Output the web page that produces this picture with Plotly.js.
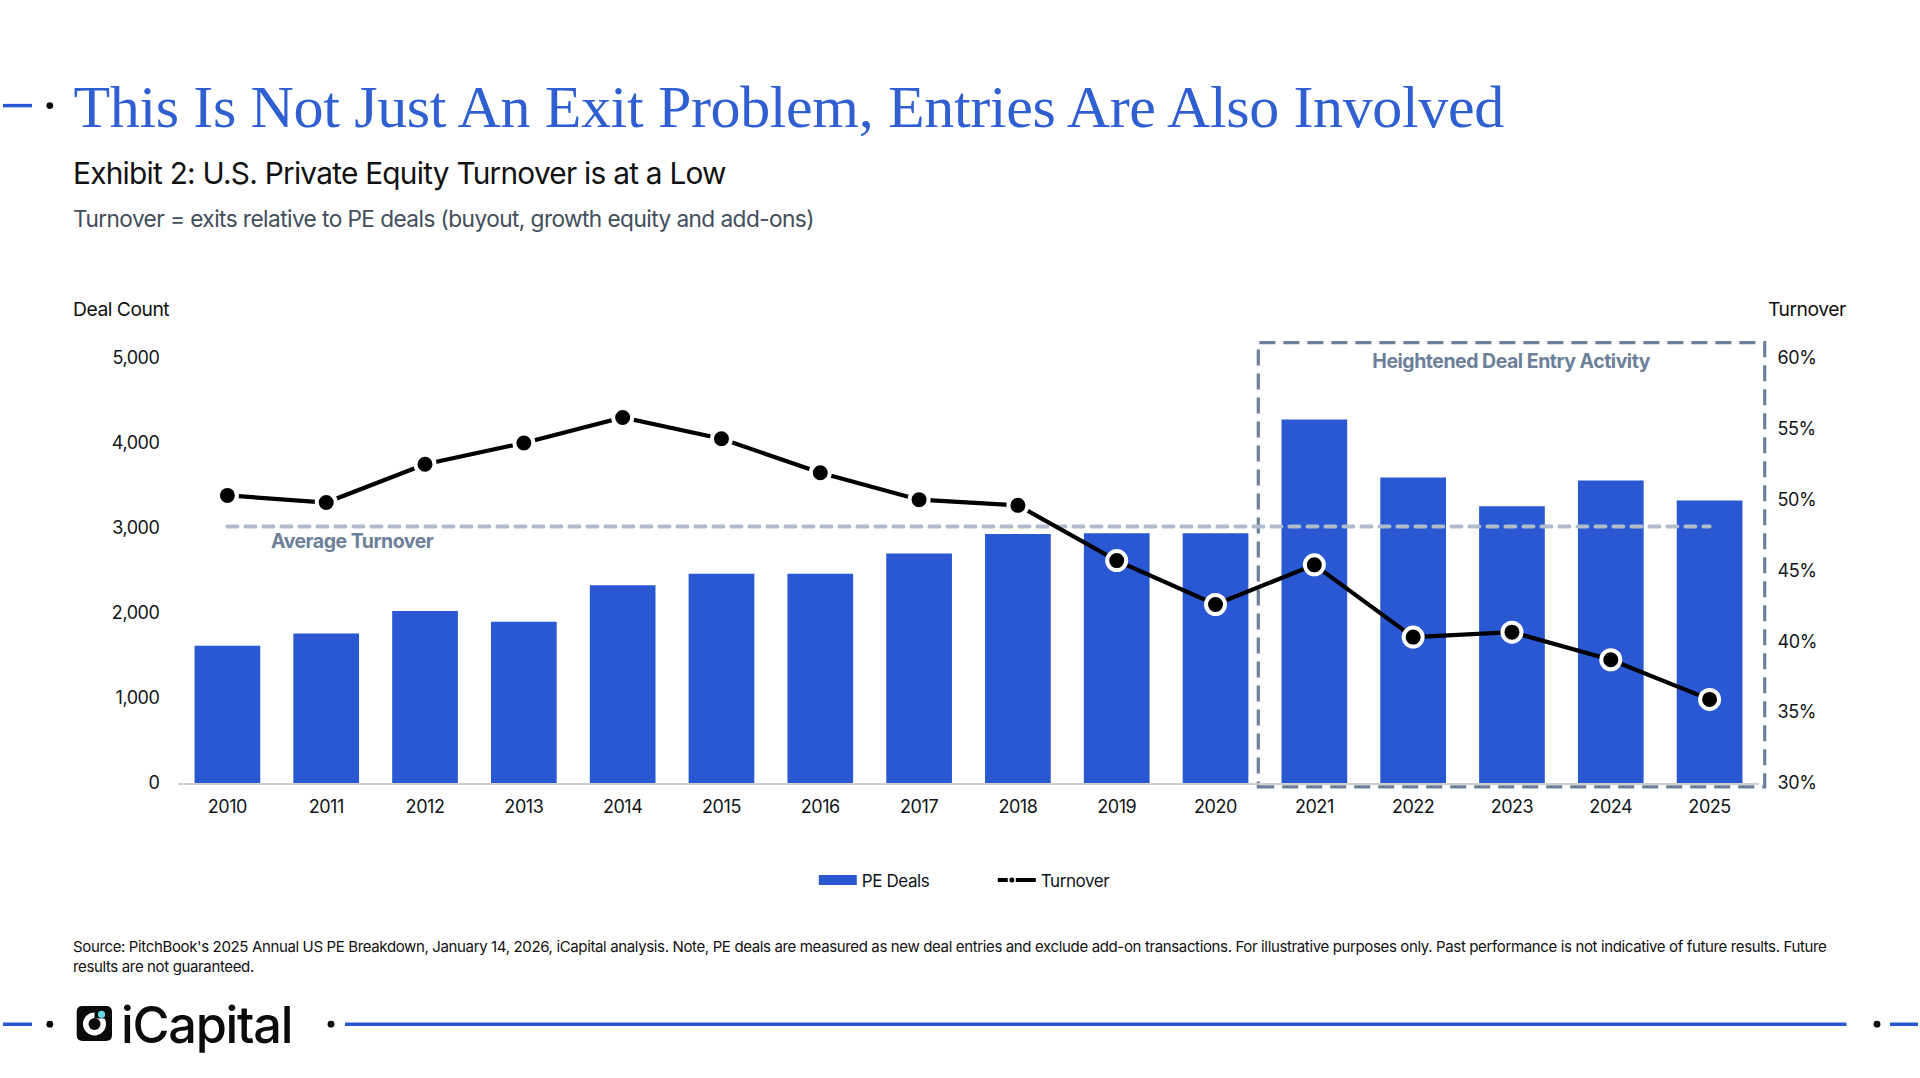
<!DOCTYPE html>
<html><head><meta charset="utf-8">
<script src="https://cdn.plot.ly/plotly-3.0.1.min.js"></script>
<style>
html,body{margin:0;padding:0;background:#fff;overflow:hidden}
#chart text{letter-spacing:-0.025em}
#chart .gtitle{letter-spacing:-0.006em}
#chart .scatterlayer .js-line{stroke-linecap:round}
#chart .legend .traces path:not(.scatterpts):not(.js-line):not(.js-fill){d:path("M19,5H-19V-5H19Z")}
#chart .legend path.scatterpts{transform:translate(19px,0) scale(0.42)}
</style></head><body>
<div id="chart" style="width:1920px;height:1078px"></div>
<script>
const years=['2010','2011','2012','2013','2014','2015','2016','2017','2018','2019','2020','2021','2022','2023','2024','2025'];
const peDeals=[1616,1760,2025,1896,2327,2463,2463,2700,2930,2937,2937,4276,3595,3255,3560,3325];
const turnover=[50.3,49.8,52.5,54.0,55.8,54.3,51.9,50.0,49.6,45.7,42.6,45.4,40.3,40.65,38.7,35.9];
const avgTurnover=[48.1,48.1];
const avgYears=['2010','2025'];
const dealTicks=[0,1000,2000,3000,4000,5000];
const pctTicks=[30,35,40,45,50,55,60];
const pctLabels=['30%','35%','40%','45%','50%','55%','60%'];

const L=178,R=1759,T=357.5,B=783.5,W=R-L,H=B-T;
const px=v=>(v-L)/W, py=v=>(B-v)/H;
const BLUE='#2958d2',SLATE='#6c8199',FONT='Inter, "Noto Sans", sans-serif',INK='#111418';

function txt(text,x,y,size,color,opt){return Object.assign({text,xref:'paper',yref:'paper',x:px(x),y:py(y),xanchor:'left',yanchor:'middle',showarrow:false,align:'left',font:{family:FONT,size,color}},opt||{});}
function bar(x0,x1,y,h,c){return {type:'rect',xref:'paper',yref:'paper',x0:px(x0),x1:px(x1),y0:py(y-h/2),y1:py(y+h/2),fillcolor:c||BLUE,line:{width:0},layer:'above'};}
function disc(x,y,r,c){return {type:'circle',xref:'paper',yref:'paper',x0:px(x-r),x1:px(x+r),y0:py(y-r),y1:py(y+r),fillcolor:c,line:{width:0},layer:'above'};}
function rr(x0,y0,x1,y1,r,c){const X=px,Y=py;
 return {type:'path',xref:'paper',yref:'paper',fillcolor:c,line:{width:0},layer:'above',
 path:`M${X(x0+r)},${Y(y0)}L${X(x1-r)},${Y(y0)}Q${X(x1)},${Y(y0)} ${X(x1)},${Y(y0+r)}L${X(x1)},${Y(y1-r)}Q${X(x1)},${Y(y1)} ${X(x1-r)},${Y(y1)}L${X(x0+r)},${Y(y1)}Q${X(x0)},${Y(y1)} ${X(x0)},${Y(y1-r)}L${X(x0)},${Y(y0+r)}Q${X(x0)},${Y(y0)} ${X(x0+r)},${Y(y0)}Z`};}

const data=[
 {type:'bar',name:'PE Deals',x:years,y:peDeals,marker:{color:BLUE},width:0.665,hoverinfo:'x+y'},
 {type:'scatter',mode:'lines',name:'Average Turnover',x:avgYears,y:avgTurnover,yaxis:'y2',showlegend:false,line:{color:'#b0bccb',width:4,dash:'10px,8px'}},
 {type:'scatter',mode:'lines+markers',name:'Turnover',x:years,y:turnover,yaxis:'y2',line:{color:'#000',width:4.2},marker:{color:'#000',size:19,line:{color:'#fff',width:4}}}
];
const layout={
 width:1920,height:1078,paper_bgcolor:'#fff',plot_bgcolor:'#fff',
 margin:{l:L,r:1920-R,t:T,b:1078-B,pad:0},bargap:0.335,
 font:{family:FONT,color:INK,size:18},
 title:{text:'This Is Not Just An Exit Problem, Entries Are Also Involved',x:73.5/1920,xref:'container',xanchor:'left',y:1-106/1078,yref:'container',yanchor:'middle',
  font:{family:'"Liberation Serif", serif',size:60,color:'#2f5fd0'}},
 xaxis:{type:'category',categoryorder:'array',categoryarray:years,range:[-0.5,15.5],showgrid:false,zeroline:false,showline:true,linecolor:'#cfcfcf',linewidth:2,ticks:'outside',ticklen:6.5,tickcolor:'rgba(0,0,0,0)',tickfont:{size:18,color:INK}},
 yaxis:{range:[0,5000],tickvals:dealTicks,tickformat:',d',showgrid:false,zeroline:false,showline:false,ticks:'outside',ticklen:14,tickcolor:'rgba(0,0,0,0)',tickfont:{size:18,color:INK}},
 yaxis2:{overlaying:'y',side:'right',range:[30,60],tickmode:'array',tickvals:pctTicks,ticktext:pctLabels,showgrid:false,zeroline:false,showline:false,ticks:'outside',ticklen:14,tickcolor:'rgba(0,0,0,0)',tickfont:{size:18,color:INK}},
 legend:{orientation:'h',x:px(813.8),xanchor:'left',xref:'paper',y:py(881.2),yanchor:'middle',yref:'paper',itemwidth:38,entrywidth:126,entrywidthmode:'pixels',font:{size:17,color:INK},traceorder:'normal'},
 annotations:[
  txt('Exhibit 2: U.S. Private Equity Turnover is at a Low',70.5,172,29.8,'#111'),
  txt('Turnover = exits relative to PE deals (buyout, growth equity and add-ons)',70.5,218,22.65,'#434e5c'),
  txt('Deal Count',71.5,308.5,19.3,'#111'),
  txt('Turnover',1765.5,308.5,19.3,'#111'),
  txt('<b>Heightened Deal Entry Activity</b>',1511,361,19.5,SLATE,{xanchor:'center',align:'center'}),
  txt('<b>Average Turnover</b>',352,540.5,19.5,SLATE,{xanchor:'center',align:'center'}),
  txt("Source: PitchBook's 2025 Annual US PE Breakdown, January 14, 2026, iCapital analysis. Note, PE deals are measured as new deal entries and exclude add-on transactions. For illustrative purposes only. Past performance is not indicative of future results. Future<br>results are not guaranteed.",71,957.5,15.04,'#111'),
  {...txt('iCapital',118.5,1026,50.5,'#0c0c0c'),font:{family:FONT,size:50.5,color:'#0c0c0c',weight:500}}
 ],
 shapes:[
  {type:'rect',xref:'paper',yref:'paper',x0:px(1258.3),x1:px(1764.7),y0:py(787.3),y1:py(342),line:{color:SLATE,width:3.2,dash:'16px,8px'},fillcolor:'rgba(0,0,0,0)',layer:'below'},
  bar(3,32,104.5,3.5), disc(49.8,104.5,3.4,'#0a0a0a'),
  bar(3,32,1025.3,3.5), disc(49.8,1025.3,3.4,'#0a0a0a'),
  disc(331,1025.3,3.4,'#0a0a0a'), bar(345,1846.5,1025.3,3.5),
  disc(1877,1025.3,3.4,'#0a0a0a'), bar(1890,1918,1025.3,3.5),
  rr(76.7,1007,112,1042,6,'#0a0a0a'),
  disc(94.5,1025,11.5,'#ffffff'), disc(94.5,1025,6,'#0a0a0a'),
  bar(94.5,108,1014,11,'#0a0a0a'),
  disc(101.5,1015.5,3.6,'#5fd8e0')
 ]
};
Plotly.newPlot('chart',data,layout,{displayModeBar:false,responsive:false});
</script></body></html>
